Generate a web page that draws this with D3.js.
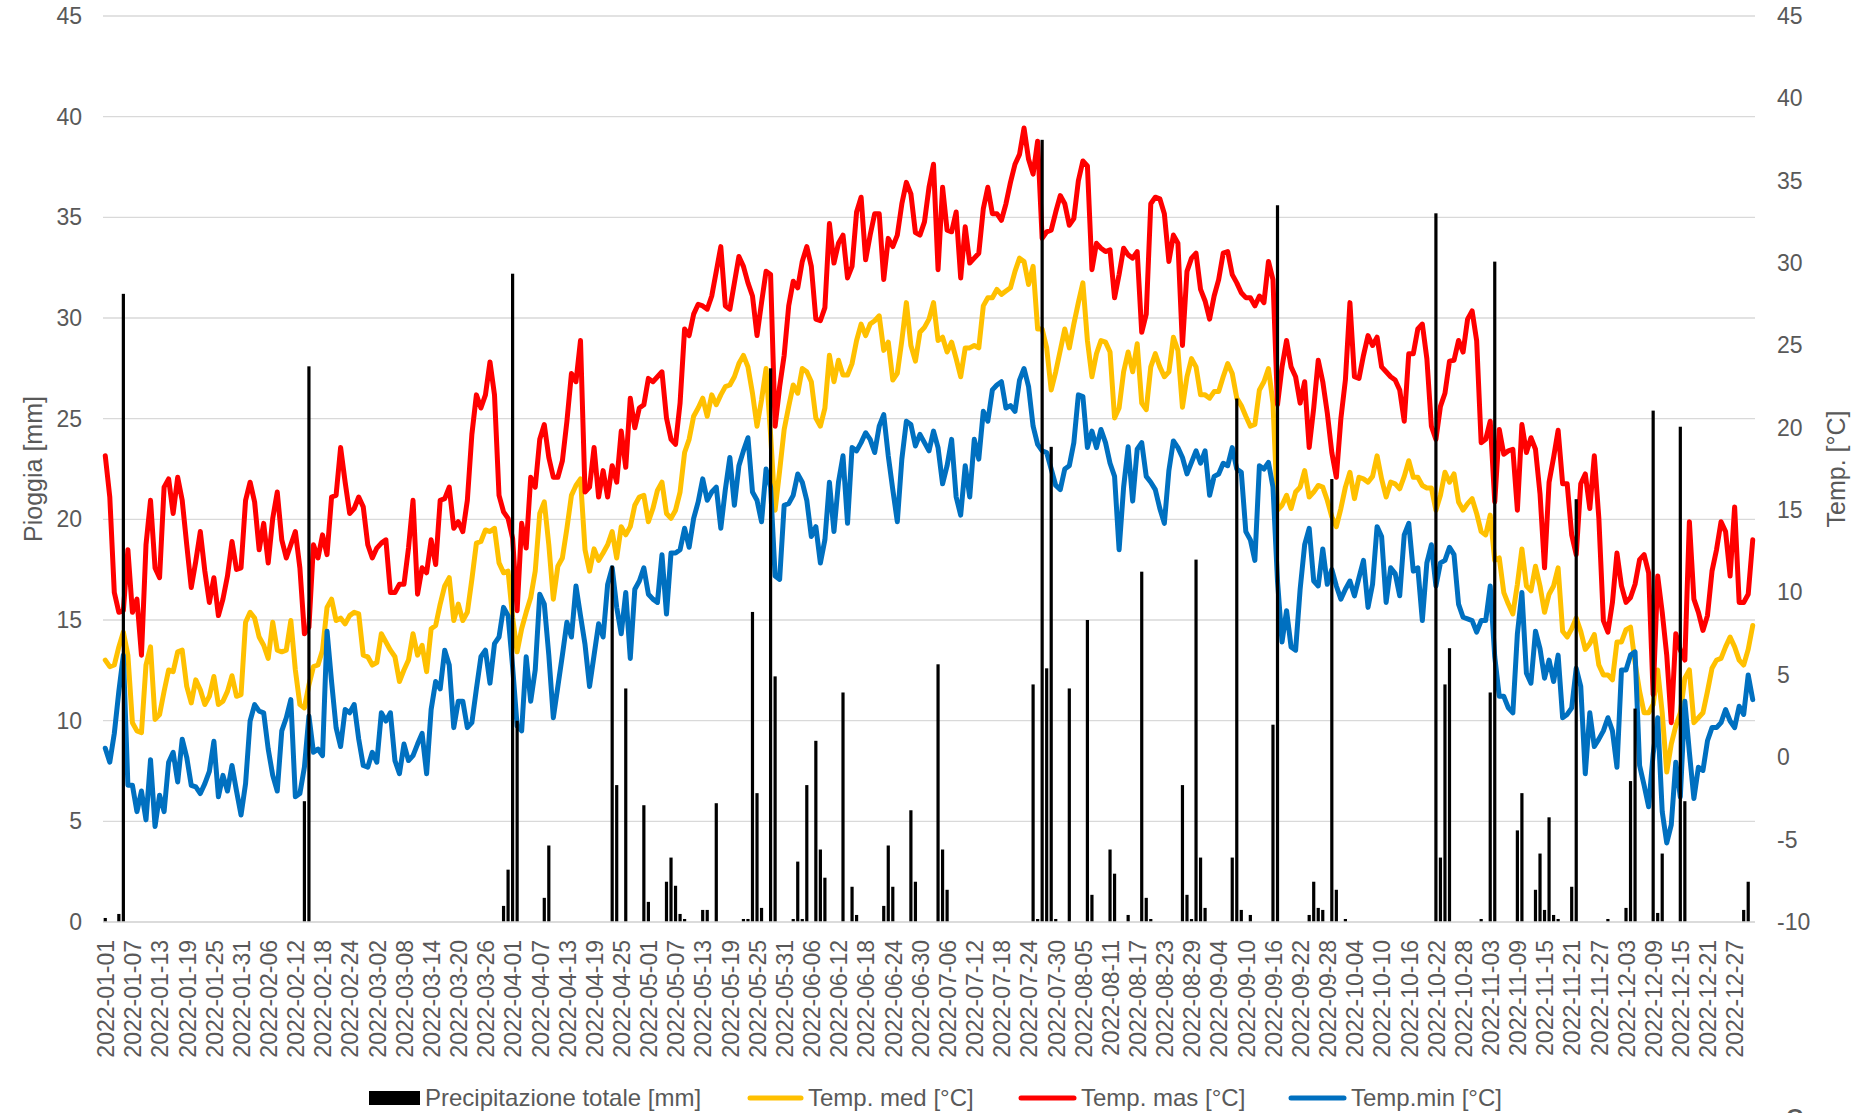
<!DOCTYPE html>
<html><head><meta charset="utf-8">
<script src="https://cdn.jsdelivr.net/npm/d3@7"></script>
<style>
html,body{margin:0;padding:0;background:#fff;}
svg text{font-family:"Liberation Sans",Arial,sans-serif;fill:#595959;}
</style></head>
<body><svg id="chart" width="1863" height="1113"></svg>
<script>
// ---------- DATA ----------
const startDate = new Date(2022, 0, 1);
const categories = d3.range(365).map(i => d3.timeFormat("%Y-%m-%d")(d3.timeDay.offset(startDate, i)));
const tickEvery = 6;
const leftTicks = [0,5,10,15,20,25,30,35,40,45];
const rightTicks = [-10,-5,0,5,10,15,20,25,30,35,40,45];

const tMax = [18.3,15.8,10.0,8.8,8.9,12.6,8.8,9.6,6.2,12.9,15.6,11.5,10.9,16.4,16.9,14.8,17.0,15.6,12.9,10.3,
11.9,13.7,11.3,9.4,10.9,8.6,9.6,11.0,13.1,11.4,11.5,15.6,16.7,15.5,12.6,14.2,11.8,14.5,16.1,13.2,
12.1,12.9,13.7,11.5,7.5,7.9,12.9,12.1,13.5,12.3,15.8,15.9,18.8,16.7,14.8,15.1,15.8,15.2,12.9,12.1,
12.7,13.0,13.2,10.0,10.0,10.5,10.5,12.7,15.6,9.9,11.5,11.2,13.2,11.7,15.6,15.7,16.4,13.9,14.3,13.7,
15.6,19.6,22.0,21.2,22.0,24.0,22.0,15.9,14.9,14.5,13.3,8.9,14.2,12.7,17.0,16.4,19.3,20.2,18.2,17.0,
17.0,18.0,20.4,23.3,22.8,25.3,16.1,16.4,18.8,15.8,17.4,15.8,17.7,16.7,19.8,17.6,21.8,20.0,21.2,21.4,
23.0,22.8,23.1,23.4,20.6,19.3,19.0,21.5,26.0,25.6,26.9,27.5,27.4,27.2,28.0,29.5,31.0,27.4,27.2,28.8,
30.4,29.8,28.8,28.0,25.6,27.6,29.5,29.3,20.1,22.5,24.4,27.4,28.9,28.5,30.1,31.0,29.8,26.6,26.5,27.3,
32.4,30.0,31.2,31.7,29.1,29.8,33.1,34.0,30.2,31.7,33.0,33.0,29.0,31.5,31.0,31.7,33.6,34.9,34.2,31.85,
31.7,32.5,34.6,36.0,29.6,34.6,32.0,31.9,33.1,29.1,32.2,30.0,30.3,30.6,33.3,34.6,33.0,33.0,32.6,33.6,
34.9,36.0,36.6,38.2,36.3,35.4,37.4,31.5,31.9,32.0,33.1,34.1,33.6,32.3,32.7,35.0,36.2,35.9,29.6,31.2,
30.9,30.7,30.8,27.9,29.3,30.9,30.5,30.3,30.7,25.8,26.9,33.6,34.0,33.9,33.0,30.1,31.7,31.2,25.0,29.5,
30.3,30.6,28.4,27.7,26.6,28.0,29.0,30.6,30.7,29.3,28.8,28.2,27.9,27.9,27.4,28.0,27.6,30.1,29.0,21.4,
23.7,25.3,23.7,23.1,21.5,22.8,18.8,21.2,24.1,22.8,20.9,18.5,17.0,20.55,22.9,27.6,23.1,23.0,24.4,25.6,
25.0,25.5,23.7,23.4,23.1,22.9,22.3,20.4,24.5,24.5,26.0,26.3,24.2,20.1,19.3,21.3,22.1,24.05,24.1,25.3,
24.6,26.6,27.1,25.3,19.1,19.3,20.4,15.5,19.9,18.4,18.6,18.7,15.0,20.2,18.5,19.4,18.7,16.0,11.5,16.7,
18.2,19.85,16.6,16.6,13.5,12.3,16.6,17.2,15.1,18.3,14.5,8.3,7.6,9.4,12.4,10.4,9.4,9.7,10.5,12.0,
12.3,11.2,3.8,11.0,8.8,6.2,2.1,7.5,6.5,5.9,14.3,9.6,8.8,7.7,8.6,11.3,12.6,14.3,13.7,11.0,
15.2,9.4,9.4,9.9,13.2];

const tMed = [5.9,5.5,5.6,6.7,7.6,6.2,2.1,1.6,1.5,5.6,6.7,2.3,2.6,4.0,5.3,5.2,6.4,6.5,4.3,3.3,
4.7,4.1,3.2,3.7,4.9,3.2,3.4,4.0,4.95,3.7,3.8,8.2,8.8,8.45,7.3,6.8,6.0,8.2,6.5,6.4,
6.5,8.3,5.3,3.2,3.0,4.4,5.5,5.6,6.5,9.1,9.6,8.3,8.45,8.1,8.6,8.8,8.7,6.2,6.1,5.6,
5.75,7.5,7.0,6.5,6.1,4.6,5.3,5.9,7.5,6.2,6.8,5.2,7.8,8.0,9.3,10.4,10.9,8.3,9.3,8.3,
8.8,10.8,13.0,13.1,13.8,13.7,13.9,11.8,11.2,11.3,8.5,6.4,7.8,8.8,9.7,11.3,14.8,15.5,12.9,9.6,
11.6,12.1,13.9,15.9,16.5,16.9,12.6,11.3,12.65,11.95,12.4,12.9,13.7,12.1,14.0,13.5,14.0,15.3,15.8,15.9,
14.3,15.1,16.2,16.7,14.8,14.5,15.0,16.1,18.5,19.3,20.7,21.2,21.8,20.7,22.0,21.4,22.0,22.5,22.6,23.1,
23.9,24.4,23.7,22.1,20.1,21.7,23.6,19.6,15.0,17.4,19.9,21.3,22.6,22.1,23.6,23.4,22.8,20.6,20.1,21.2,
24.4,22.8,24.1,23.2,23.2,23.9,25.3,26.3,25.6,26.3,26.5,26.8,24.7,25.2,22.9,23.3,25.3,27.6,25.0,24.05,
25.8,26.1,26.6,27.6,25.3,25.5,24.6,25.2,24.2,23.1,24.85,24.85,25.0,24.85,27.4,27.9,27.9,28.4,28.1,28.3,
28.5,29.5,30.3,30.1,28.7,29.8,26.0,26.0,24.85,22.3,23.4,24.7,26.0,24.85,26.3,27.6,28.8,25.3,23.1,24.5,
25.3,25.2,24.6,20.6,21.2,23.4,24.6,23.4,25.1,21.5,21.1,23.7,24.5,23.7,23.1,23.4,25.5,24.7,21.25,23.1,
24.2,23.7,22.0,22.0,21.8,22.2,22.2,23.1,23.9,23.3,21.8,21.35,20.7,20.1,20.2,22.3,22.8,23.6,21.5,15.0,
15.3,15.9,15.1,16.1,16.4,17.4,15.8,16.1,16.5,16.4,15.6,14.6,14.0,15.1,16.4,17.3,15.7,17.0,16.9,16.7,
17.05,18.3,16.9,15.8,16.7,16.6,16.3,17.05,18.0,17.0,17.0,16.5,16.35,16.35,15.0,15.9,17.3,16.7,17.2,15.5,
15.0,15.4,15.7,14.8,13.7,13.5,14.7,11.95,12.1,10.0,9.3,8.7,10.5,12.65,10.4,10.1,11.6,10.4,8.8,9.9,
10.4,11.5,7.65,7.3,7.8,8.45,7.65,6.55,6.9,7.45,5.6,5.0,5.0,4.7,7.0,7.0,7.75,7.9,5.75,4.0,
2.7,2.7,3.2,5.3,2.7,-0.9,0.8,1.9,2.7,4.8,5.3,2.1,2.4,2.7,4.0,5.4,5.9,6.0,6.7,7.3,
6.7,5.9,5.6,6.55,8.0];

const tMin = [0.55,-0.3,1.45,4.0,6.2,-1.7,-1.7,-3.3,-2.05,-3.8,-0.15,-4.2,-2.3,-3.3,-0.3,0.3,-1.5,1.1,0.0,-1.7,
-1.8,-2.2,-1.6,-0.85,0.97,-2.4,-1.1,-2.05,-0.5,-2.05,-3.5,-1.6,2.2,3.2,2.8,2.7,0.5,-1.1,-2.05,1.6,
2.4,3.5,-2.4,-2.2,-0.6,2.5,0.3,0.5,0.1,7.65,4.6,1.8,0.65,2.9,2.7,3.2,1.1,-0.5,-0.6,0.3,
-0.3,2.7,2.2,2.7,-0.2,-1.0,0.8,-0.2,0.1,0.8,1.45,-1.0,2.9,4.6,4.15,6.5,5.6,1.8,3.4,3.4,
1.8,2.1,4.15,6.1,6.5,4.5,6.9,7.3,9.1,8.6,5.5,1.9,1.6,6.1,3.4,5.3,9.9,9.3,6.2,2.4,
4.3,6.2,8.2,7.3,10.4,8.6,6.85,4.3,6.2,8.1,7.3,10.5,11.5,9.1,7.5,10.0,6.0,10.2,10.7,11.5,
9.9,9.6,9.4,12.3,8.7,12.4,12.4,12.6,13.9,12.75,14.5,15.5,16.9,15.6,16.1,16.4,13.9,16.25,18.2,15.3,
17.7,18.6,19.4,16.1,15.6,14.3,17.5,16.4,11.0,10.8,15.3,15.4,15.9,17.2,16.7,15.6,13.4,14.0,11.8,13.2,
16.7,13.7,16.7,18.3,14.2,18.8,18.6,19.1,19.7,19.3,18.5,20.1,20.8,18.3,16.25,14.3,18.1,20.4,20.2,18.9,
19.6,19.1,18.6,19.8,18.8,16.6,17.7,19.3,15.8,14.7,17.7,15.8,19.3,18.1,21.0,20.4,22.3,22.6,22.8,21.2,
21.35,21.0,22.9,23.6,22.5,20.1,19.0,18.6,18.5,17.5,16.5,16.25,17.5,17.7,19.1,22.0,21.9,18.8,19.8,18.8,
19.9,19.1,17.85,17.05,12.6,16.4,18.85,15.55,18.7,19.1,17.05,16.7,16.25,15.1,14.2,17.4,19.2,18.8,18.2,17.2,
17.9,18.6,17.85,18.6,15.9,17.05,17.2,17.85,17.7,18.8,17.5,17.3,13.7,13.2,11.95,17.7,17.5,17.9,16.4,10.7,
7.0,8.9,6.7,6.5,10.2,12.9,13.9,10.7,10.4,12.65,10.5,11.4,10.4,9.6,10.2,10.7,9.8,10.9,11.95,9.1,
10.5,14.0,13.4,9.4,11.5,11.15,9.8,13.5,14.2,11.3,11.5,8.3,11.8,12.9,10.4,11.8,11.95,12.75,12.3,9.3,
8.5,8.4,8.3,7.6,8.3,8.3,10.4,6.1,3.7,3.7,3.0,2.7,7.5,10.0,5.1,4.5,7.65,6.6,4.8,5.9,
4.6,6.2,2.4,2.6,3.0,5.4,4.3,-1.0,2.7,0.65,1.1,1.6,2.4,1.6,-0.6,5.3,5.3,6.2,6.4,-0.5,
-1.7,-3.0,0.2,2.4,-3.3,-5.2,-4.1,-0.3,-2.4,3.4,0.3,-2.5,-0.6,-0.8,1.0,1.8,1.8,2.1,2.9,2.2,
1.8,3.1,2.6,5.0,3.5];

// rainfall: day index (0 = 2022-01-01) and mm; all other days 0
const rainDay = [0,3,4,44,45,88,89,90,91,97,98,112,113,115,119,120,124,125,126,127,128,132,133,135,
141,142,143,144,145,147,148,152,153,154,155,157,158,159,163,165,166,172,173,174,178,179,
184,185,186,205,206,207,208,209,210,213,217,218,222,223,226,229,230,231,238,239,240,241,242,243,
249,250,251,253,258,259,266,267,268,269,271,272,274,294,295,296,297,304,306,307,312,313,
316,317,318,319,320,321,324,325,332,336,337,338,342,343,344,348,349,362,363];
const rainMm = [0.2,0.4,31.2,6.0,27.6,0.8,2.6,32.2,10.0,1.2,3.8,17.7,6.8,11.6,5.8,1.0,2.0,3.2,1.8,0.4,0.15,0.6,0.6,5.9,
0.15,0.15,15.4,6.4,0.7,27.5,12.2,0.15,3.0,0.15,6.8,9.0,3.6,2.2,11.4,1.75,0.35,0.8,3.8,1.75,5.55,2.0,
12.8,3.6,1.6,11.8,0.15,38.85,12.6,23.6,0.15,11.6,15.0,1.35,3.6,2.4,0.35,17.4,1.2,0.15,6.8,1.35,0.15,18.0,3.2,0.7,
3.2,26.0,0.6,0.35,9.8,35.6,0.35,2.0,0.7,0.6,22.0,1.6,0.15,35.2,3.2,11.8,13.6,0.15,11.4,32.8,4.55,6.4,
1.6,3.4,0.6,5.2,0.35,0.15,1.75,21.0,0.15,0.7,7.0,10.6,25.4,0.45,3.4,24.6,6.0,0.6,2.0];

const seriesNames = ["Precipitazione totale [mm]", "Temp. med [°C]", "Temp. mas [°C]", "Temp.min [°C]"];
const colors = {rain:"#000000", med:"#FFC000", max:"#FF0000", min:"#0070C0"};

// ---------- LAYOUT ----------
const L = 103, R = 1755, T = 16, B = 922;
const svg = d3.select("#chart");
const fmt = d => String(d);

const x = d3.scalePoint().domain(d3.range(categories.length)).range([L, R]).padding(0.5);
const yL = d3.scaleLinear().domain([0, 45]).range([B, T]);
const yR = d3.scaleLinear().domain([-10, 45]).range([B, T]);

// gridlines
svg.append("g").selectAll("line").data(leftTicks).join("line")
  .attr("x1", L).attr("x2", R)
  .attr("y1", d => yL(d)).attr("y2", d => yL(d))
  .attr("stroke", "#D9D9D9").attr("stroke-width", 1.3);

// left axis
const gL = svg.append("g").attr("transform", `translate(${L},0)`)
  .call(d3.axisLeft(yL).tickValues(leftTicks).tickFormat(fmt).tickSize(0).tickPadding(21));
gL.select(".domain").remove();
gL.selectAll("text").attr("font-size", 23).style("fill", "#595959").attr("font-family", "Liberation Sans, Arial, sans-serif");

// right axis
const gR = svg.append("g").attr("transform", `translate(${R},0)`)
  .call(d3.axisRight(yR).tickValues(rightTicks).tickFormat(fmt).tickSize(0).tickPadding(22));
gR.select(".domain").remove();
gR.selectAll("text").attr("font-size", 23).style("fill", "#595959").attr("font-family", "Liberation Sans, Arial, sans-serif");

// x axis labels
const gX = svg.append("g").attr("transform", `translate(0,${B})`)
  .call(d3.axisBottom(x).tickValues(d3.range(0, categories.length, tickEvery)).tickFormat(i => categories[i]).tickSize(0));
gX.select(".domain").remove();
gX.selectAll("text")
  .attr("font-size", 23).style("fill", "#595959").attr("font-family", "Liberation Sans, Arial, sans-serif")
  .attr("transform", "rotate(-90)")
  .attr("text-anchor", "end")
  .attr("x", -18).attr("y", 0).attr("dy", "0.36em");

// lines
const line = d3.line().x((d, i) => x(i)).y(d => yR(d)).curve(d3.curveLinear);
const lineSeries = [[tMed, colors.med], [tMax, colors.max], [tMin, colors.min]];
svg.append("g").selectAll("path").data(lineSeries).join("path")
  .attr("d", d => line(d[0]))
  .attr("fill", "none").attr("stroke", d => d[1])
  .attr("stroke-width", 5).attr("stroke-linejoin", "round").attr("stroke-linecap", "round");

// rain bars
const rain = rainDay.map((d, k) => ({i: d, v: rainMm[k]}));
const bw = 3.2;
svg.append("g").selectAll("rect").data(rain).join("rect")
  .attr("x", d => x(d.i) - bw / 2).attr("width", bw)
  .attr("y", d => yL(d.v)).attr("height", d => B - yL(d.v))
  .attr("fill", colors.rain);

// baseline
svg.append("line").attr("x1", L).attr("x2", R).attr("y1", B).attr("y2", B)
  .attr("stroke", "#D9D9D9").attr("stroke-width", 1.3);

// axis titles
svg.append("text").attr("transform", `translate(33,${(T + B) / 2}) rotate(-90)`)
  .attr("text-anchor", "middle").attr("dy", "0.35em").attr("font-size", 25).text("Pioggia [mm]");
svg.append("text").attr("transform", `translate(1836,${(T + B) / 2}) rotate(-90)`)
  .attr("text-anchor", "middle").attr("dy", "0.35em").attr("font-size", 25).text("Temp. [°C]");

// legend
const ly = 1098;
const lg = svg.append("g").attr("font-size", 24);
lg.append("rect").attr("x", 369).attr("y", ly - 7).attr("width", 51).attr("height", 14).attr("fill", colors.rain);
lg.append("text").attr("x", 425).attr("y", ly).attr("dy", "0.35em").text(seriesNames[0]);
const legLines = [[748, 803, 808, colors.med, seriesNames[1]], [1019, 1076, 1081, colors.max, seriesNames[2]], [1289, 1346, 1351, colors.min, seriesNames[3]]];
legLines.forEach(l => {
  lg.append("line").attr("x1", l[0] + 2).attr("x2", l[1] - 2).attr("y1", ly).attr("y2", ly)
    .attr("stroke", l[3]).attr("stroke-width", 5).attr("stroke-linecap", "round");
  lg.append("text").attr("x", l[2]).attr("y", ly).attr("dy", "0.35em").text(l[4]);
});

// partially visible character at the bottom-right edge (as in the reference)
svg.append("text").attr("x", 1795).attr("y", 1132).attr("text-anchor", "middle").attr("font-size", 34).text("2");
</script>
</body></html>
